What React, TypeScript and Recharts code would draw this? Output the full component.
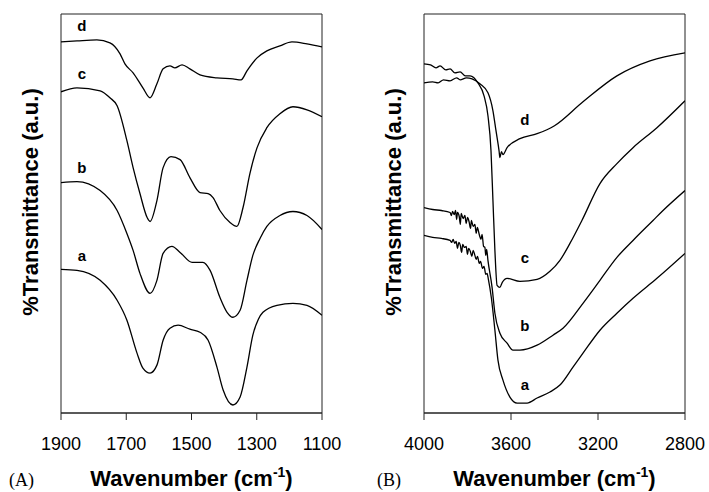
import { LineChart, Line, XAxis, YAxis, ReferenceDot, ReferenceArea, Label } from "recharts";

type Pt = [number, number];

// panel A, 1900-1100 cm-1
const ticksA = [1900, 1700, 1500, 1300, 1100];
const specAa: Pt[] = [[1900,144],[1851,143],[1780,133],[1728,113],[1698,93],[1667,60],[1649,45],[1627,40],[1606,48],[1587,73],[1566,85],[1541,88],[1505,84],[1474,81],[1449,73],[1422,46],[1403,23],[1373,8],[1351,16],[1330,46],[1312,78],[1295,94],[1281,101],[1238,108],[1189,110],[1146,108],[1100,98]];
const specAb: Pt[] = [[1900,231],[1851,232],[1780,223],[1728,203],[1698,180],[1679,163],[1658,140],[1627,120],[1606,133],[1587,160],[1560,167],[1535,161],[1498,151],[1465,151],[1443,143],[1413,116],[1391,101],[1373,96],[1351,103],[1330,133],[1312,158],[1290,175],[1269,187],[1229,198],[1189,202],[1146,198],[1100,184]];
const specAc: Pt[] = [[1900,322],[1851,326],[1780,323],[1750,316],[1728,308],[1698,273],[1679,246],[1658,220],[1636,196],[1627,192],[1606,213],[1587,246],[1563,257],[1535,254],[1505,236],[1474,221],[1449,220],[1434,216],[1413,203],[1382,191],[1361,187],[1342,206],[1321,240],[1299,266],[1269,286],[1229,300],[1189,307],[1146,304],[1100,297]];
const specAd: Pt[] = [[1900,372],[1851,373],[1790,374],[1750,371],[1719,360],[1704,350],[1679,341],[1649,326],[1627,316],[1606,330],[1587,345],[1566,348],[1551,346],[1529,349],[1505,345],[1474,339],[1422,336],[1373,335],[1348,334],[1330,343],[1299,356],[1269,363],[1229,368],[1192,372],[1146,370],[1100,367]];

// panel B, 4000-2800 cm-1
const ticksB = [4000, 3600, 3200, 2800];
const specBa: Pt[] = [[4000,178],[3960,176],[3920,175],[3880,173],[3873,171],[3866,174],[3859,170],[3852,172],[3846,165],[3840,171],[3833,168],[3827,161],[3822,169],[3814,166],[3806,167],[3800,159],[3795,165],[3787,162],[3780,157],[3774,163],[3766,158],[3760,154],[3754,157],[3746,150],[3740,152],[3731,145],[3724,147],[3716,139],[3710,140],[3704,134],[3690,115],[3674,83],[3660,53],[3637,33],[3605,16],[3572,10],[3526,10],[3480,15],[3421,21],[3375,28],[3315,46],[3269,60],[3191,83],[3113,100],[3039,115],[2929,135],[2800,160]];
const specBb: Pt[] = [[4000,206],[3960,204],[3920,203],[3880,201],[3874,198],[3869,202],[3861,199],[3855,203],[3850,194],[3846,201],[3838,197],[3833,189],[3829,200],[3820,195],[3812,198],[3806,190],[3800,196],[3793,192],[3786,185],[3782,193],[3774,187],[3766,189],[3760,180],[3755,186],[3746,179],[3738,174],[3733,179],[3726,167],[3720,166],[3716,158],[3712,164],[3706,153],[3687,126],[3674,100],[3651,80],[3618,70],[3591,63],[3559,63],[3480,68],[3407,78],[3361,85],[3269,110],[3191,133],[3113,156],[3039,173],[2947,193],[2901,203],[2800,223]];
const specBc: Pt[] = [[4000,350],[3970,349],[3945,346],[3926,348],[3900,344],[3880,345],[3858,341],[3834,342],[3810,338],[3788,338],[3752,331],[3724,318],[3706,298],[3692,263],[3683,213],[3674,163],[3664,128],[3651,126],[3640,131],[3618,135],[3559,132],[3480,134],[3421,142],[3375,153],[3329,170],[3274,193],[3191,230],[3113,250],[3039,266],[2929,286],[2800,313]];
const specBd: Pt[] = [[4000,331],[3960,332],[3935,331],[3910,334],[3880,333],[3850,336],[3834,334],[3805,336],[3779,335],[3743,330],[3706,321],[3683,303],[3669,283],[3655,263],[3651,256],[3644,262],[3637,259],[3618,266],[3559,275],[3480,280],[3400,288],[3269,312],[3113,338],[2961,353],[2800,361]];

const tagsA: Pt[] = [[1836,158],[1836,246],[1836,340],[1836,388]];
const tagsB: Pt[] = [[3536,28],[3536,88],[3536,156],[3536,294]];
const tagNames = ["a", "b", "c", "d"];

const font = "Arial, 'Liberation Sans', Helvetica, sans-serif";
const rows = (pts: Pt[]) => pts.map(([wn, t]) => ({ wn, t }));

function Panel(props: {
  width: number; left: number; right: number;
  domain: [number, number]; ticks: number[];
  series: Pt[][]; tags: Pt[]; letter: string; letterDx: number;
}) {
  const { width, left, right, domain, ticks, series, tags, letter, letterDx } = props;
  return (
    <LineChart width={width} height={492} margin={{ top: 14, right, bottom: 0, left }}>
      <XAxis
        dataKey="wn" type="number" domain={domain} reversed ticks={ticks} interval={0}
        allowDataOverflow height={79} tickSize={7} tickMargin={17}
        axisLine={{ stroke: "#222" }} tickLine={{ stroke: "#222" }}
        tick={{ fill: "#000", fontSize: 18, fontFamily: font }}
      >
        <Label
          content={(p: any) => {
            const vb = p.viewBox;
            const cx = vb.x + vb.width / 2;
            const ty = vb.y - 211;
            return (
              <g>
                <text x={cx} y={vb.y + 73} textAnchor="middle" fontFamily={font}
                  fontWeight="bold" fontSize={22} fill="#000">
                  <tspan>Wavenumber (cm</tspan>
                  <tspan dy={-9} fontSize={14}>-1</tspan>
                  <tspan dy={9}>)</tspan>
                </text>
                <text x={vb.x + letterDx} y={vb.y + 73} fontFamily="'Times New Roman', 'Liberation Serif', serif"
                  fontSize={18} fill="#000">{letter}</text>
                <text transform={`translate(${vb.x - 31},${ty}) rotate(-90)`} textAnchor="middle"
                  dominantBaseline="central" fontFamily={font} fontWeight="bold" fontSize={22} fill="#000">
                  %Transmittance (a.u.)
                </text>
              </g>
            );
          }}
        />
      </XAxis>
      <YAxis type="number" domain={[0, 400]} width={0} tick={false} tickLine={false}
        axisLine={{ stroke: "#222" }} allowDataOverflow />
      <ReferenceArea x1={domain[0]} x2={domain[1]} y1={0} y2={400} fill="none" stroke="#222" strokeWidth={1} />
      {series.map((s, i) => (
        <Line key={i} data={rows(s)} dataKey="t" type="monotone" stroke="#000"
          strokeWidth={1.3} dot={false} isAnimationActive={false} />
      ))}
      {tags.map(([x, y], i) => (
        <ReferenceDot key={i} x={x} y={y} r={0} fill="none" stroke="none"
          label={{ value: tagNames[i], position: "center", fill: "#000", fontSize: 15, fontWeight: "bold", fontFamily: font }} />
      ))}
    </LineChart>
  );
}

export default function App() {
  return (
    <div style={{ position: "absolute", left: 0, top: 0, width: 709, height: 492, background: "#fff" }}>
      <div style={{ position: "absolute", left: 0, top: 0 }}>
        <Panel width={354} left={61} right={32} domain={[1100, 1900]} ticks={ticksA}
          series={[specAa, specAb, specAc, specAd]} tags={tagsA} letter="(A)" letterDx={-52} />
      </div>
      <div style={{ position: "absolute", left: 354, top: 0 }}>
        <Panel width={355} left={70} right={24} domain={[2800, 4000]} ticks={ticksB}
          series={[specBa, specBb, specBc, specBd]} tags={tagsB} letter="(B)" letterDx={-47} />
      </div>
    </div>
  );
}
